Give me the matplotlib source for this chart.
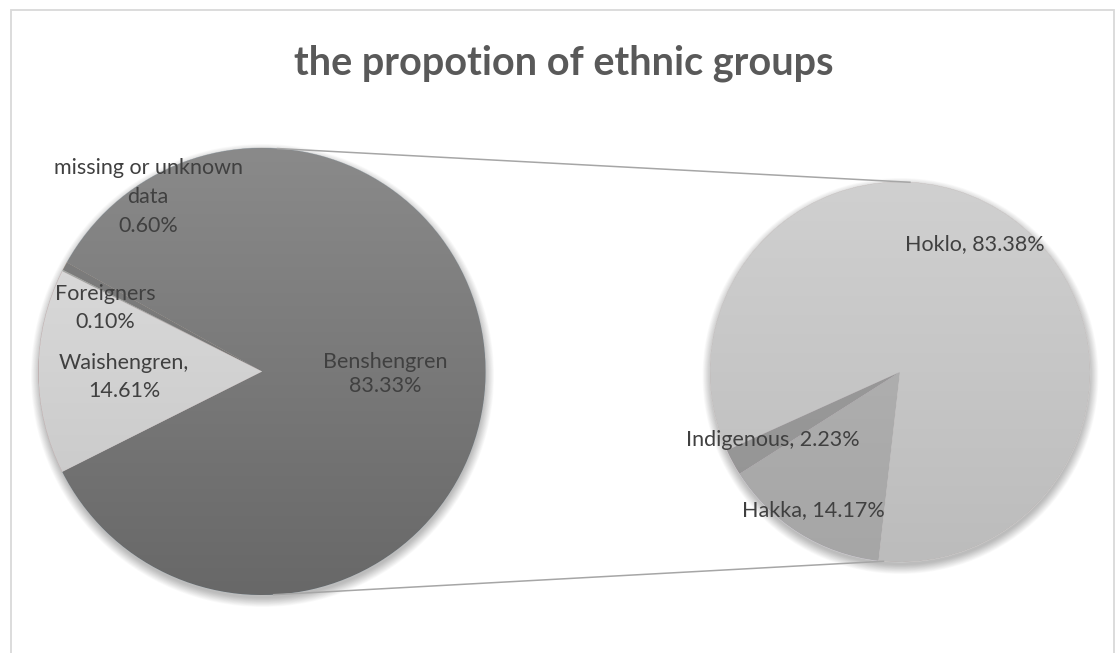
import numpy as np
import matplotlib
matplotlib.use("Agg")
import matplotlib.pyplot as plt
from matplotlib.patches import Circle, Rectangle
from matplotlib.colors import LinearSegmentedColormap

# ---- data ----
title = "the propotion of ethnic groups"
main_labels = ["Benshengren", "Waishengren", "Foreigners", "missing or unknown data"]
main_values = [83.33, 14.61, 0.10, 0.60]
sub_labels = ["Hoklo", "Hakka", "Indigenous"]
sub_values = [83.38, 14.17, 2.23]

W, H = 1120, 653
fig = plt.figure(figsize=(W / 100, H / 100), dpi=100)
ax = fig.add_axes([0, 0, 1, 1])
ax.set_xlim(0, W)
ax.set_ylim(0, H)
ax.set_aspect("equal")
ax.axis("off")

def py(y):  # pixel-from-top to data y
    return H - y

FONT = ["Lato", "DejaVu Sans"]
TXT = "#404040"

# frame
ax.add_patch(Rectangle((11, -5), 1103, py(10) + 5, fill=False, ec="#d9d9d9", lw=1.3, zorder=0))

# geometry
c1, r1 = (262, py(371.5)), 223.5
c2, r2 = (900, py(372)), 190


def shadow(center, r):
    for k in range(14):
        ax.add_patch(Circle((center[0] + 0.5, center[1] - 4), r + 8 - k * 0.7,
                            color="black", alpha=0.02, lw=0, zorder=1))


def gradient_fill(wedge, center, r, c_top, c_bot):
    cmap = LinearSegmentedColormap.from_list("g", [c_bot, c_top])
    grad = np.linspace(0, 1, 256).reshape(-1, 1)
    im = ax.imshow(grad, cmap=cmap, origin="lower", aspect="auto",
                   extent=(center[0] - r, center[0] + r, center[1] - r, center[1] + r),
                   zorder=3, interpolation="bicubic")
    im.set_clip_path(wedge)


shadow(c1, r1)
shadow(c2, r2)

# ---- main pie ----
tot1 = sum(main_values)
order1 = [0, 3, 2, 1]  # Benshengren, missing, Foreigners, Waishengren (counter-clockwise)
vals1 = [main_values[i] for i in order1]
start1 = 180 + 360 * main_values[1] / tot1 / 2
grads1 = {0: ("#8a8a8a", "#686868"), 1: ("#e0e0e0", "#c4c4c4"),
          2: ("#a8a8a8", "#9a9a9a"), 3: ("#808080", "#707070")}
w1, _ = ax.pie(vals1, center=c1, radius=r1, startangle=start1, counterclock=True,
               wedgeprops=dict(lw=0.6, ec="#bfbfbf"), frame=True)
for w, i in zip(w1, order1):
    w.set_zorder(2)
    gradient_fill(w, c1, r1, *grads1[i])

# ---- sub pie ----
tot2 = sum(sub_values)
order2 = [1, 0, 2]  # Hakka, Hoklo, Indigenous (counter-clockwise)
vals2 = [sub_values[i] for i in order2]
start2 = 212.4
grads2 = {0: ("#d0d0d0", "#bcbcbc"), 1: ("#b6b6b6", "#a6a6a6"), 2: ("#9c9c9c", "#949494")}
w2, _ = ax.pie(vals2, center=c2, radius=r2, startangle=start2, counterclock=True,
               wedgeprops=dict(lw=0.6, ec="#d6d6d6"), frame=True)
for w, i in zip(w2, order2):
    w.set_zorder(2)
    gradient_fill(w, c2, r2, *grads2[i])

ax.set_xlim(0, W)
ax.set_ylim(0, H)
ax.axis("off")

# connector lines
def on_circle(c, r, ang):
    a = np.deg2rad(ang)
    return c[0] + r * np.cos(a), c[1] + r * np.sin(a)

for a1, a2 in [(86, 87), (-87, -95)]:
    p1 = on_circle(c1, r1, a1)
    p2 = on_circle(c2, r2, a2)
    ax.plot([p1[0], p2[0]], [p1[1], p2[1]], color="#a6a6a6", lw=1.1, zorder=4)

# ---- text ----
ax.text(564, py(63), title, ha="center", va="center", fontsize=28.5, fontweight="bold",
        color="#595959", family=FONT, zorder=6)

lab_kw = dict(ha="center", va="center", fontsize=15.5, color=TXT, family=FONT, zorder=6)


def pct(v):
    return f"{v:.2f}%"

ax.text(148, py(197), "missing or unknown\ndata\n" + pct(main_values[3]), linespacing=1.55, **lab_kw)
ax.text(105, py(308), "Foreigners\n" + pct(main_values[2]), linespacing=1.55, **lab_kw)
ax.text(124, py(377), main_labels[1] + ",\n" + pct(main_values[1]), linespacing=1.55, **lab_kw)
ax.text(385, py(374), main_labels[0] + "\n" + pct(main_values[0]), linespacing=1.3, **lab_kw)
ax.text(975, py(244), f"{sub_labels[0]}, {pct(sub_values[0])}", **lab_kw)
ax.text(773, py(440), f"{sub_labels[2]}, {pct(sub_values[2])}", **lab_kw)
ax.text(813, py(510), f"{sub_labels[1]}, {pct(sub_values[1])}", **lab_kw)

fig.savefig("out.png", dpi=100, facecolor="white")
